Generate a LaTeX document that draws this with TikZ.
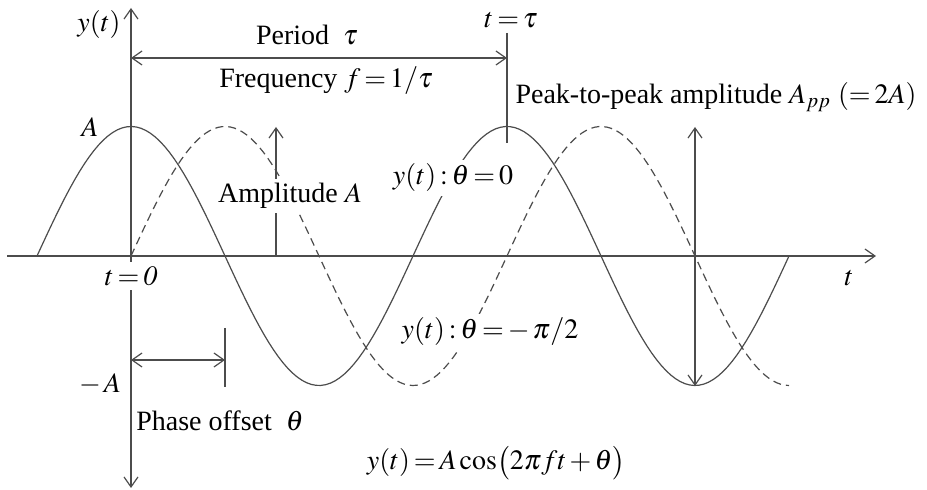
\documentclass[tikz,border=0pt]{standalone}
\usepackage{mathptmx}
\usepackage{fontspec}
\setmainfont{Liberation Serif}
\usepackage{tikz}
\usetikzlibrary{arrows.meta}
\thickmuskip=2.5mu
\medmuskip=2mu
\tikzset{
  axis/.style={line width=.6pt,draw=black!70},
  tip/.style={-{Straight Barb[length=5pt,width=7pt]}},
  bothtips/.style={{Straight Barb[length=5pt,width=7pt]}-{Straight Barb[length=5pt,width=7pt]}},
  wave/.style={line width=.6pt,draw=black!70},
  shifted/.style={wave,dash pattern=on 4pt off 2.5pt},
  lbl/.style={font=\fontsize{14}{16}\selectfont,inner sep=1pt},
  mask/.style={lbl,fill=white,inner sep=2pt}
}
\begin{document}
\begin{tikzpicture}[x=.5pt,y=-.5pt]
\useasboundingbox (0,0) rectangle (927,490);
% axes
\coordinate (xbeg) at (7,256);
\coordinate (xend) at (876,256);
\coordinate (ytop) at (131,8);
\coordinate (ybot) at (131,488);
\draw[axis,tip] (xbeg) -- (xend);
\draw[axis,bothtips] (ytop) -- (ybot);

% waves, period 376
\draw[wave] plot[domain=37:789,samples=160] (\x,{256-129.5*cos((\x-131)/376*360)});
\draw[shifted] plot[domain=131:789,samples=160] (\x,{256-129.5*sin((\x-131)/376*360)});

% dimension marks
\coordinate (per0) at (131,58);
\coordinate (per1) at (507,58);
\coordinate (tautop) at (507,33);
\coordinate (taubot) at (507,143);
\draw[axis,bothtips] (per0) -- (per1);
\draw[axis] (tautop) -- (taubot);

\coordinate (amp0) at (276,256);
\coordinate (amp1) at (276,127);
\draw[axis,tip] (amp0) -- (amp1);

\coordinate (pp0) at (695,127);
\coordinate (pp1) at (695,386);
\draw[axis,bothtips] (pp0) -- (pp1);

\coordinate (ph0) at (131,360);
\coordinate (ph1) at (225,360);
\coordinate (phtop) at (225,328);
\coordinate (phbot) at (225,387);
\draw[axis,bothtips] (ph0) -- (ph1);
\draw[axis] (phtop) -- (phbot);

% labels
\node[lbl] (ylab) at (99,25) {$y(t)$};
\node[lbl] (Alab) at (90,127) {$A$};
\node[lbl] (mAlab) at (100,384) {$-\,A$};
\node[mask] (t0lab) at (131,276) {$t=\mathit{0}$};
\node[lbl] (tlab) at (849,278) {$t$};
\node[lbl] (perlab) at (307,35) {Period\ \ $\tau$};
\node[lbl] (freqlab) at (326,81) {Frequency\ $f=1/\tau$};
\node[lbl] (taulab) at (511,20) {$t=\tau$};
\node[lbl,anchor=east] (pplab) at (919,97) {Peak-to-peak amplitude $A_{pp}$\ $(=2A)$};
\node[mask] (amplab) at (290,196) {Amplitude $A$};
\node[mask] (th0lab) at (453,178) {$y(t):\theta=0$};
\node[mask] (thmlab) at (490,332) {$y(t):\theta=-\,\pi/2$};
\node[lbl] (phlab) at (220,421) {Phase offset\ \ $\theta$};
\node[lbl] (eqlab) at (496,463) {$y(t)=A\cos\bigl(2\pi ft+\theta\bigr)$};
\end{tikzpicture}
\end{document}
